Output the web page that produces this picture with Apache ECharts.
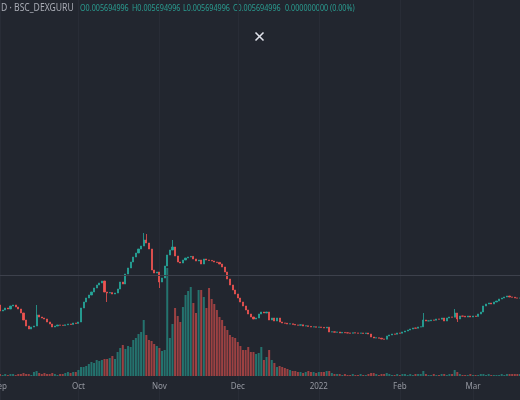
<!DOCTYPE html>
<html><head><meta charset="utf-8">
<script src="https://cdn.jsdelivr.net/npm/echarts@6/dist/echarts.min.js"></script>
<style>html,body{margin:0;padding:0;background:#22262f}#c{width:520px;height:400px}</style>
</head><body><div id="c"></div>
<script>
// ---- data ----
const startDate = '2021-09-01';
const closes = [
0.00505,0.00510,0.00520,0.00515,0.00530,0.00535,0.00525,0.00515,0.00495,0.00460,
0.00430,0.00415,0.00425,0.00430,0.00485,0.00475,0.00470,0.00465,0.00450,0.00440,
0.00425,0.00430,0.00435,0.00434,0.00433,0.00436,0.00440,0.00438,0.00445,0.00443,
0.00450,0.00520,0.00550,0.00570,0.00585,0.00600,0.00620,0.00635,0.00645,0.00655,
0.00600,0.00595,0.00597,0.00590,0.00595,0.00615,0.00650,0.00640,0.00690,0.00720,
0.00750,0.00775,0.00795,0.00815,0.00830,0.00860,0.00845,0.00815,0.00710,0.00695,
0.00700,0.00650,0.00670,0.00730,0.00785,0.00810,0.00825,0.00780,0.00750,0.00745,
0.00760,0.00770,0.00775,0.00778,0.00765,0.00755,0.00760,0.00740,0.00765,0.00760,
0.00758,0.00755,0.00750,0.00748,0.00740,0.00725,0.00700,0.00665,0.00635,0.00610,
0.00590,0.00570,0.00550,0.00530,0.00510,0.00490,0.00475,0.00465,0.00470,0.00490,
0.00500,0.00495,0.00500,0.00460,0.00470,0.00455,0.00470,0.00450,0.00445,0.00444,
0.00440,0.00441,0.00438,0.00435,0.00434,0.00436,0.00430,0.00431,0.00428,0.00425,
0.00426,0.00424,0.00425,0.00423,0.00420,0.00424,0.00400,0.00401,0.00399,0.00400,
0.00395,0.00398,0.00396,0.00395,0.00394,0.00396,0.00395,0.00394,0.00395,0.00393,
0.00395,0.00390,0.00375,0.00370,0.00371,0.00369,0.00365,0.00364,0.00380,0.00385,
0.00390,0.00389,0.00395,0.00394,0.00400,0.00405,0.00410,0.00415,0.00420,0.00419,
0.00425,0.00426,0.00460,0.00455,0.00456,0.00460,0.00459,0.00465,0.00464,0.00470,
0.00455,0.00470,0.00475,0.00474,0.00495,0.00465,0.00480,0.00479,0.00475,0.00480,
0.00475,0.00480,0.00478,0.00490,0.00500,0.00530,0.00540,0.00545,0.00540,0.00550,
0.00555,0.00565,0.00570,0.00575,0.00580,0.00575,0.00574,0.00570,0.005694996,0.005694996
];
const firstOpen = 0.00535;
const wickHighDays = [14, 55, 56, 66, 162, 174];
const wickHighs    = [0.00535, 0.00895, 0.00890, 0.00860, 0.00495, 0.00515];
const wickLowDays  = [41, 61, 175];
const wickLows     = [0.00550, 0.00620, 0.00450];
const volumes = [
2,1,2,1,2,2,1,2,2,3, 2,2,1,4,5,3,2,3,2,2, 3,2,1,2,2,3,4,3,4,4,
6,9,9,10,12,14,13,16,15,16, 17,17,18,20,17,24,28,31,27,30,
29,36,38,42,44,56,41,36,35,32, 30,28,25,26,108,38,52,68,60,54,
69,81,85,89,73,63,86,86,79,68, 88,77,72,66,59,56,50,46,41,39,
38,34,30,26,26,29,24,24,22,23, 29,16,19,26,16,13,9,10,9,8,
7,6,5,5,4,4,3,4,5,4, 4,3,4,4,4,5,5,3,2,2,
2,1,2,1,1,2,1,1,2,1, 1,2,3,3,2,1,2,2,3,2,
1,1,2,1,2,2,1,2,1,2, 2,2,5,2,1,1,2,1,1,2,
2,1,2,2,6,4,2,1,1,1, 2,1,1,1,2,2,1,2,1,1,
1,1,2,1,2,2,2,2,2,2
];
const monthTickLabels = ['2022','Feb','Mar','Apr','May','Jun','Jul','Aug','Sep','Oct','Nov','Dec'];
const levelLine = 0.00685;
const symbolTitle = 'D · BSC_DEXGURU';

// ---- build ----
const dates = [];
{
  const d0 = new Date(startDate + 'T00:00:00Z');
  for (let i = 0; i < closes.length; i++) {
    const d = new Date(d0.getTime() + i * 86400000);
    dates.push(d.toISOString().slice(0, 10));
  }
}
const candles = closes.map((c, i) => {
  const o = i === 0 ? firstOpen : closes[i - 1];
  let hi = Math.max(o, c), lo = Math.min(o, c);
  const hIdx = wickHighDays.indexOf(i); if (hIdx >= 0) hi = wickHighs[hIdx];
  const lIdx = wickLowDays.indexOf(i); if (lIdx >= 0) lo = wickLows[lIdx];
  return [o, c, lo, hi];
});
const UP = '#26a69a', DOWN = '#ef5350';
const volData = volumes.map((v, i) => ({
  value: v,
  itemStyle: { color: candles[i][1] >= candles[i][0] ? 'rgba(38,166,154,0.6)' : 'rgba(239,83,80,0.6)' }
}));
const isMonthStart = (idx) => dates[idx] && dates[idx].slice(8) === '01';

const last = candles[candles.length - 1];
const fmt = v => v.toFixed(9);
const chg = last[1] - last[0];
const pct = (chg / last[0] * 100).toFixed(2);
const headerItems = [
  ['O' + fmt(last[0]), 80],
  ['H' + fmt(last[3]), 132],
  ['L' + fmt(last[2]), 183],
  ['C' + fmt(last[1]), 233],
  [fmt(chg), 285],
  ['(' + pct + '%)', 330]
];

const chart = echarts.init(document.getElementById('c'), null, { renderer: 'canvas' });
const graphics = [
  { type: 'text', x: 1, y: 8, scaleX: 0.86,
    style: { text: symbolTitle, fill: '#a9acb5', fontSize: 10, fontFamily: 'Noto Sans', verticalAlign: 'middle' } }
].concat(headerItems.map(([t, x]) => ({
  type: 'text', x: x, y: 8, scaleX: 0.8,
  style: { text: t, fill: '#2a9d91', fontSize: 9, fontFamily: 'Noto Sans', verticalAlign: 'middle' }
}))).concat([
  { type: 'line', shape: { x1: 255.5, y1: 32.5, x2: 263.5, y2: 40.5 }, style: { stroke: '#e0e3eb', lineWidth: 1.6 } },
  { type: 'line', shape: { x1: 263.5, y1: 32.5, x2: 255.5, y2: 40.5 }, style: { stroke: '#e0e3eb', lineWidth: 1.6 } }
]);

chart.setOption({
  backgroundColor: '#22262f',
  animation: false,
  grid: [
    { left: 0, right: 0, top: 0, bottom: 0, containLabel: false, outerBoundsMode: 'none' },
    { left: 0, right: 0, top: 266, bottom: 24, containLabel: false, outerBoundsMode: 'none' }
  ],
  xAxis: [
    { type: 'category', gridIndex: 0, data: dates, boundaryGap: false,
      axisLine: { show: false }, axisTick: { show: false }, axisLabel: { show: false },
      splitLine: { show: true, interval: isMonthStart, lineStyle: { color: '#282c36', width: 1 } } },
    { type: 'category', gridIndex: 1, data: dates, boundaryGap: false,
      axisLine: { show: false }, axisTick: { show: false }, splitLine: { show: false },
      axisLabel: { show: true, interval: isMonthStart, margin: 7, color: '#9598a1', fontSize: 8, fontFamily: 'Noto Sans',
        alignMinLabel: 'center', alignMaxLabel: 'center', hideOverlap: false,
        formatter: v => monthTickLabels[parseInt(v.slice(5, 7), 10) - 1] } }
  ],
  yAxis: [
    { type: 'value', gridIndex: 0, min: 0.0006, max: 0.0206, show: false, splitLine: { show: false } },
    { type: 'value', gridIndex: 1, min: 0, max: 110, show: false, splitLine: { show: false } }
  ],
  series: [
    { type: 'bar', xAxisIndex: 1, yAxisIndex: 1, data: volData, barWidth: 2, z: 1 },
    { type: 'candlestick', xAxisIndex: 0, yAxisIndex: 0, data: candles, barWidth: 1.6, z: 3,
      itemStyle: { color: UP, color0: DOWN, borderColor: UP, borderColor0: DOWN, borderWidth: 0.8 },
      markLine: { silent: true, symbol: 'none', precision: 10, label: { show: false },
        lineStyle: { color: '#3d414c', width: 1, type: 'solid' }, data: [{ yAxis: levelLine }] } }
  ],
  graphic: graphics
});
</script></body></html>
